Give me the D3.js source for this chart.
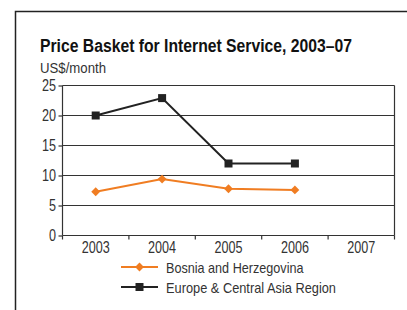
<!DOCTYPE html>
<html>
<head>
<meta charset="utf-8">
<script src="https://d3js.org/d3.v7.min.js"></script>
<style>
  body { margin: 0; background: white; }
  svg text { font-family: 'Liberation Sans', Arial, sans-serif; fill: #333; }
  .title { font-weight: bold; fill: #111; }
</style>
</head>
<body>
<svg id="chart"></svg>
<script>
// chart data
var years = ["2003", "2004", "2005", "2006", "2007"];
var bosnia = [7.3, 9.4, 7.8, 7.6, null];
var eca = [20, 22.9, 12, 12, null];
var yTicks = [0, 5, 10, 15, 20, 25];
var seriesNames = ["Bosnia and Herzegovina", "Europe & Central Asia Region"];

var width = 407, height = 310;
var svg = d3.select("#chart").attr("width", width).attr("height", height);

// the source uses a condensed face; squeeze the regular one to the same width
function squeeze(sel, w) {
  sel.attr("textLength", w).attr("lengthAdjust", "spacingAndGlyphs");
}

// outer frame (runs off the page on right and bottom)
svg.append("path")
  .attr("d", "M15.5,320V11.5H420")
  .attr("fill", "none")
  .attr("stroke", "#222")
  .attr("stroke-width", 1.5);

svg.append("text").attr("class", "title")
  .attr("x", 40).attr("y", 52)
  .style("font-size", "17.5px")
  .text("Price Basket for Internet Service, 2003\u201307")
  .call(squeeze, 312);

svg.append("text")
  .attr("x", 40).attr("y", 72.5)
  .style("font-size", "14px")
  .text("US$/month")
  .call(squeeze, 66);

var x = d3.scaleBand().domain(years).range([62.5, 394.5]).padding(0);
var y = d3.scaleLinear().domain([0, 25]).range([235.5, 85.5]);

// gridlines
svg.append("g").selectAll("line")
  .data(yTicks.filter(function(d) { return d > 0; }))
  .enter().append("line")
  .attr("x1", 62.5).attr("x2", 394.5)
  .attr("y1", function(d) { return y(d); })
  .attr("y2", function(d) { return y(d); })
  .attr("stroke", "#333").attr("stroke-width", 1.2);

// right border
svg.append("line")
  .attr("x1", 394.5).attr("x2", 394.5)
  .attr("y1", y(25)).attr("y2", y(0))
  .attr("stroke", "#333").attr("stroke-width", 1.2);

// y axis
var yAxis = svg.append("g")
  .attr("transform", "translate(62.5,0)")
  .call(d3.axisLeft(y).tickValues(yTicks).tickSize(4).tickPadding(2.5));
yAxis.selectAll("text").style("font-size", "16px").attr("fill", "#3a3a3a")
  .each(function(d) { d3.select(this).call(squeeze, String(d).length * 7); });
yAxis.selectAll("line, path").attr("stroke", "#333").attr("stroke-width", 1.2);
yAxis.select("path").attr("d", "M0," + y(25) + "V" + y(0));

// x axis: labels centred in bands, ticks on band boundaries
var xAxis = svg.append("g")
  .attr("transform", "translate(0," + y(0) + ")")
  .call(d3.axisBottom(x).tickSize(0).tickPadding(6));
xAxis.select("path").attr("stroke", "#333").attr("stroke-width", 1.2)
  .attr("d", "M62.5,0H394.5");
xAxis.selectAll("text").style("font-size", "16px").attr("fill", "#3a3a3a")
  .call(squeeze, 28);

var bounds = years.map(function(d) { return x(d); }).concat([x.range()[1]]);
xAxis.selectAll(".bound").data(bounds).enter().append("line")
  .attr("class", "bound")
  .attr("x1", function(d) { return d; }).attr("x2", function(d) { return d; })
  .attr("y1", 0).attr("y2", 4)
  .attr("stroke", "#333").attr("stroke-width", 1.2);

var cx = function(i) { return x(years[i]) + x.bandwidth() / 2; };
var line = d3.line()
  .defined(function(d) { return d != null; })
  .x(function(d, i) { return cx(i); })
  .y(function(d) { return y(d); });

var orange = "#f07d22", black = "#222";

// Europe & Central Asia
svg.append("path").datum(eca)
  .attr("d", line).attr("fill", "none")
  .attr("stroke", black).attr("stroke-width", 2);
svg.append("g").selectAll("rect")
  .data(eca.map(function(v, i) { return {v: v, i: i}; }).filter(function(d) { return d.v != null; }))
  .enter().append("rect")
  .attr("x", function(d) { return cx(d.i) - 4; })
  .attr("y", function(d) { return y(d.v) - 4; })
  .attr("width", 8).attr("height", 8)
  .attr("fill", black);

// Bosnia and Herzegovina
var diamond = d3.symbol().type(d3.symbolDiamond2).size(50);
svg.append("path").datum(bosnia)
  .attr("d", line).attr("fill", "none")
  .attr("stroke", orange).attr("stroke-width", 2);
svg.append("g").selectAll("path")
  .data(bosnia.map(function(v, i) { return {v: v, i: i}; }).filter(function(d) { return d.v != null; }))
  .enter().append("path")
  .attr("d", diamond)
  .attr("transform", function(d) { return "translate(" + cx(d.i) + "," + y(d.v) + ")"; })
  .attr("fill", orange);

// legend
var legend = svg.append("g");
var rows = [{name: seriesNames[0], color: orange, mark: "diamond", w: 137.5},
            {name: seriesNames[1], color: black, mark: "square", w: 170}];
rows.forEach(function(r, k) {
  var ly = 267 + k * 20;
  legend.append("line")
    .attr("x1", 121).attr("x2", 158).attr("y1", ly).attr("y2", ly)
    .attr("stroke", r.color).attr("stroke-width", 2);
  if (r.mark === "diamond") {
    legend.append("path").attr("d", diamond)
      .attr("transform", "translate(139.5," + ly + ")").attr("fill", r.color);
  } else {
    legend.append("rect").attr("x", 135.5).attr("y", ly - 4)
      .attr("width", 8).attr("height", 8).attr("fill", r.color);
  }
  legend.append("text")
    .attr("x", 166).attr("y", ly + 6)
    .style("font-size", "15px")
    .text(r.name)
    .call(squeeze, r.w);
});
</script>
</body>
</html>
